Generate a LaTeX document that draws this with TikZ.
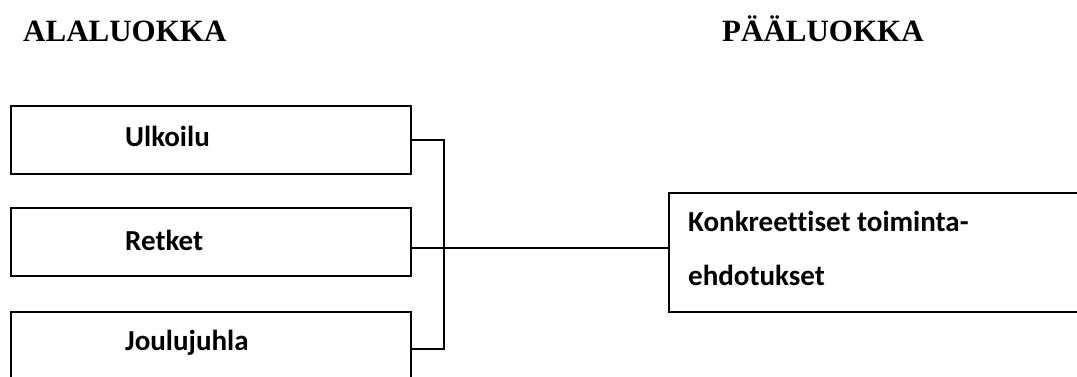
\documentclass[tikz,border=0pt]{standalone}
\usepackage{fontspec}
\setmainfont{Liberation Serif}
\newfontfamily\calib[Ligatures=NoCommon]{Carlito}
\begin{document}
\begin{tikzpicture}[x=1pt,y=-1pt,
  box/.style={draw, line width=1.8pt, inner sep=0pt, anchor=north west},
  conn/.style={draw, line width=1.7pt},
  lbl/.style={anchor=base west, inner sep=0pt, font=\calib\bfseries\fontsize{29}{34}\selectfont},
  head/.style={anchor=base west, inner sep=0pt, font=\bfseries\fontsize{31}{36}\selectfont}]
\clip (0,0) rectangle (1077,376);
\node[head] (h1) at (23,41) {ALALUOKKA};
\node[head] (h2) at (722,41) {PÄÄLUOKKA};
\node[box, minimum width=400pt, minimum height=68pt] (b1) at (10,105) {};
\node[box, minimum width=400pt, minimum height=68pt] (b2) at (10,207) {};
\node[box, minimum width=400pt, minimum height=68pt] (b3) at (10,311) {};
\node[box, minimum width=420pt, minimum height=119pt] (k) at (668,192) {};
\node[lbl] (t1) at (125,146) {Ulkoilu};
\node[lbl] (t2) at (125,250) {Retket};
\node[lbl] (t3) at (125,350) {Joulujuhla};
\node[lbl] (t4) at (688,231) {Konkreettiset toiminta-};
\node[lbl] (t5) at (688,285) {ehdotukset};
\coordinate (s2) at ([yshift=-6pt]b2.east);
\coordinate (s3) at ([yshift=-3pt]b3.east);
\coordinate (j) at (444,0);
\draw[conn] (b1.east) -| (j |- s3) -- (s3);
\draw[conn] (s2) -- (s2 -| k.west);
\end{tikzpicture}
\end{document}
